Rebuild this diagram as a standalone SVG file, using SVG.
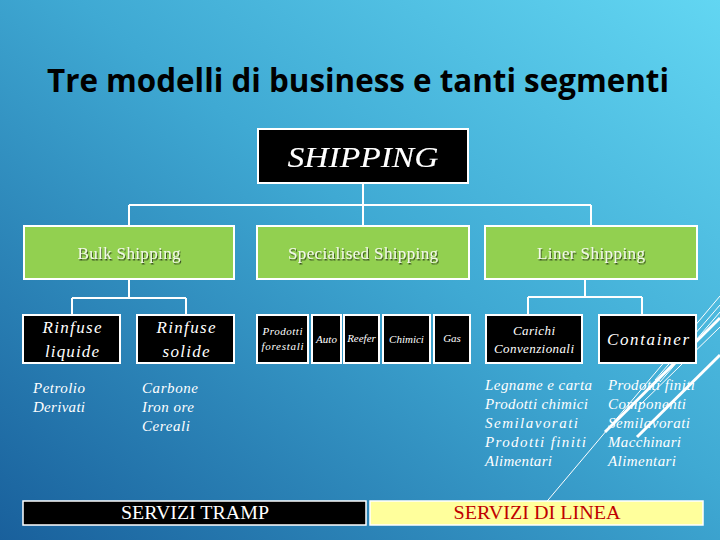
<svg xmlns="http://www.w3.org/2000/svg" width="720" height="540" viewBox="0 0 720 540">
<defs>
<linearGradient id="bg" x1="1" y1="0" x2="0" y2="1">
<stop offset="0" stop-color="#62D6F2"/>
<stop offset="0.45" stop-color="#3FA9D3"/>
<stop offset="1" stop-color="#19609C"/>
</linearGradient>
<filter id="sh" x="-10%" y="-20%" width="130%" height="150%">
<feDropShadow dx="1" dy="1.5" stdDeviation="0.6" flood-color="#000" flood-opacity="0.6"/>
</filter>
<style>
.blk{fill:#000;stroke:#fff;stroke-width:2}
.grn{fill:#92D050;stroke:#fff;stroke-width:2}
.con{fill:none;stroke:#fff;stroke-width:2}
.it{font-family:"Liberation Serif","DejaVu Serif",serif;font-style:italic;fill:#fff;text-anchor:middle}
.gt{font-family:"Liberation Serif",serif;font-size:17px;fill:#F2F8E8;text-anchor:middle}
.lst{font-family:"Liberation Serif",serif;font-style:italic;font-size:15px;fill:#fff}
.deco{stroke:#fff;fill:none}
</style>
</defs>
<rect width="720" height="540" fill="url(#bg)"/>
<g id="decoration">
<line class="deco" x1="720" y1="296" x2="543" y2="506" stroke-width="1"/>
<line class="deco" x1="720" y1="305" x2="655" y2="380" stroke-width="1"/>
<line class="deco" x1="720" y1="312" x2="660" y2="382" stroke-width="1"/>
<line class="deco" x1="720" y1="318" x2="605" y2="432" stroke-width="3"/>
<line class="deco" x1="720" y1="327" x2="640" y2="405" stroke-width="1"/>
<line class="deco" x1="720" y1="355" x2="637" y2="437" stroke-width="3"/>
</g>
<text x="358" y="92" font-family="'Open Sans','Noto Sans',sans-serif" font-weight="700" font-size="32" text-anchor="middle" fill="#000" textLength="622" lengthAdjust="spacingAndGlyphs">Tre modelli di business e tanti segmenti</text>
<g id="connectors">
<path class="con" d="M363 183V205M129 205H591M129 205V225M363 205V225M591 205V225"/>
<path class="con" d="M129 279V298M72 298H186M72 298V315M186 298V315"/>
<path class="con" d="M585 279V297M528 297H642M528 297V315M642 297V315"/>
</g>
<g id="shipping">
<rect class="blk" x="258" y="129" width="210" height="54"/>
<text class="it" x="363" y="167" font-size="30" textLength="151" lengthAdjust="spacingAndGlyphs" filter="url(#sh)">SHIPPING</text>
</g>
<g id="bulk">
<rect class="grn" x="24" y="226" width="210" height="53"/>
<text class="gt" x="129" y="259" textLength="103" filter="url(#sh)">Bulk Shipping</text>
</g>
<g id="specialised">
<rect class="grn" x="257" y="226" width="212" height="53"/>
<text class="gt" x="363" y="259" textLength="150" filter="url(#sh)">Specialised Shipping</text>
</g>
<g id="liner">
<rect class="grn" x="485" y="226" width="212" height="53"/>
<text class="gt" x="591" y="259" textLength="108" filter="url(#sh)">Liner Shipping</text>
</g>
<g id="rinfuse-liquide">
<rect class="blk" x="23" y="315" width="97" height="48"/>
<text class="it" x="72" y="333" font-size="17" textLength="59">Rinfuse</text>
<text class="it" x="72" y="357" font-size="17" textLength="54">liquide</text>
</g>
<g id="rinfuse-solide">
<rect class="blk" x="137" y="315" width="97" height="48"/>
<text class="it" x="186" y="333" font-size="17" textLength="59">Rinfuse</text>
<text class="it" x="186" y="357" font-size="17" textLength="47">solide</text>
</g>
<g id="prodotti-forestali">
<rect class="blk" x="257" y="315" width="51" height="48"/>
<text class="it" x="282.5" y="335" font-size="11" textLength="40">Prodotti</text>
<text class="it" x="282.5" y="350" font-size="11" textLength="42">forestali</text>
</g>
<g id="auto">
<rect class="blk" x="312" y="315" width="29" height="48"/>
<text class="it" x="326.5" y="343" font-size="11">Auto</text>
</g>
<g id="reefer">
<rect class="blk" x="344" y="315" width="35" height="48"/>
<text class="it" x="361.5" y="342" font-size="11">Reefer</text>
</g>
<g id="chimici">
<rect class="blk" x="383" y="315" width="47" height="48"/>
<text class="it" x="406.5" y="343" font-size="11">Chimici</text>
</g>
<g id="gas">
<rect class="blk" x="434" y="315" width="36" height="48"/>
<text class="it" x="452" y="342" font-size="11">Gas</text>
</g>
<g id="carichi">
<rect class="blk" x="486" y="315" width="96" height="48"/>
<text class="it" x="534" y="335" font-size="13" textLength="42">Carichi</text>
<text class="it" x="534" y="353" font-size="13" textLength="80">Convenzionali</text>
</g>
<g id="container">
<rect class="blk" x="599" y="315" width="97" height="48"/>
<text class="it" x="648" y="345" font-size="17" textLength="82">Container</text>
</g>
<g id="list-liquide">
<text class="lst" x="33" y="393" textLength="52">Petrolio</text>
<text class="lst" x="33" y="412" textLength="52">Derivati</text>
</g>
<g id="list-solide">
<text class="lst" x="142" y="393" textLength="56">Carbone</text>
<text class="lst" x="142" y="412" textLength="52">Iron ore</text>
<text class="lst" x="142" y="431" textLength="48">Cereali</text>
</g>
<g id="list-carichi">
<text class="lst" x="485" y="390" textLength="107">Legname e carta</text>
<text class="lst" x="485" y="409" textLength="103">Prodotti chimici</text>
<text class="lst" x="485" y="428" textLength="93">Semilavorati</text>
<text class="lst" x="485" y="447" textLength="101">Prodotti finiti</text>
<text class="lst" x="485" y="466" textLength="67">Alimentari</text>
</g>
<g id="list-container">
<text class="lst" x="608" y="390" textLength="87">Prodotti finiti</text>
<text class="lst" x="608" y="409" textLength="78">Componenti</text>
<text class="lst" x="608" y="428" textLength="82">Semilavorati</text>
<text class="lst" x="608" y="447" textLength="73">Macchinari</text>
<text class="lst" x="608" y="466" textLength="68">Alimentari</text>
</g>
<g id="servizi-tramp">
<rect x="23" y="501" width="343" height="24" fill="#000" stroke="#fff" stroke-width="1.5"/>
<text x="195" y="519" font-family="'Liberation Serif',serif" font-size="18" fill="#fff" text-anchor="middle" textLength="148" lengthAdjust="spacingAndGlyphs">SERVIZI TRAMP</text>
</g>
<g id="servizi-linea">
<rect x="370" y="501" width="333" height="24" fill="#FFFF9C" stroke="#fff" stroke-width="1.5"/>
<text x="537" y="519" font-family="'Liberation Serif',serif" font-size="18" fill="#C00000" text-anchor="middle" textLength="167" lengthAdjust="spacingAndGlyphs">SERVIZI DI LINEA</text>
</g>
</svg>
